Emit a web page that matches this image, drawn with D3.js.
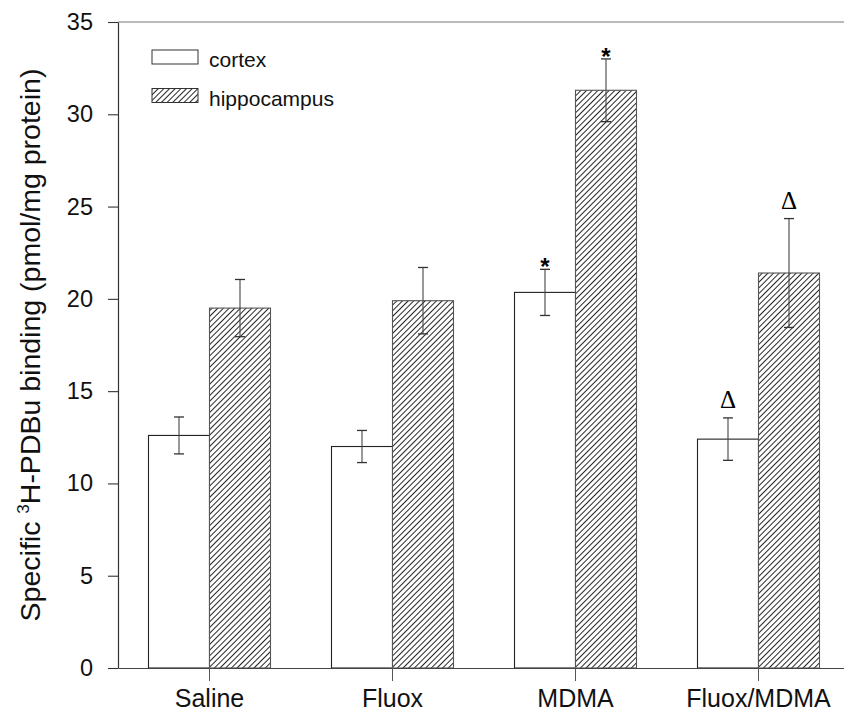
<!DOCTYPE html>
<html>
<head>
<meta charset="utf-8">
<script src="https://cdn.jsdelivr.net/npm/d3@7"></script>
<style>
  html, body { margin: 0; padding: 0; background: #fff; }
  svg { display: block; }
</style>
</head>
<body>
<svg id="chart" width="844" height="715"></svg>
<script>
// Treatment groups and tissue series
const groups = ["Saline", "Fluox", "MDMA", "Fluox/MDMA"];
const series = ["cortex", "hippocampus"];

// Mean specific binding (pmol/mg protein)
const cortexMean = [12.6, 12.0, 20.35, 12.4];
const hippoMean = [19.5, 19.9, 31.3, 21.4];

// Standard errors
const cortexSE = [1.0, 0.87, 1.25, 1.15];
const hippoSE = [1.55, 1.8, 1.7, 2.95];

// Significance markers above each bar ("" = none)
const cortexMark = ["", "", "*", "\u0394"];
const hippoMark = ["", "", "*", "\u0394"];

const yTicks = [0, 5, 10, 15, 20, 25, 30, 35];

const svg = d3.select("#chart");
const plotLeft = 118, plotRight = 850, plotTop = 22, plotBottom = 668;

const x0 = d3.scaleBand().domain(groups).range([plotLeft, plotRight]).padding(0);
const bw = x0.bandwidth();
const x1 = d3.scaleBand().domain(series).range([bw / 6, bw * 5 / 6]).padding(0);
const y = d3.scaleLinear().domain([0, 35]).range([plotBottom, plotTop]);

// Diagonal hatch pattern for the hippocampus bars
const hs = 4;
const defs = svg.append("defs");
const pat = defs.append("pattern")
  .attr("id", "hatch")
  .attr("patternUnits", "userSpaceOnUse")
  .attr("width", hs).attr("height", hs)
  .attr("patternTransform", "rotate(45)");
pat.append("rect").attr("width", hs).attr("height", hs).attr("fill", "#fff");
pat.append("line")
  .attr("x1", 0).attr("y1", 0).attr("x2", 0).attr("y2", hs)
  .attr("stroke", "#000").attr("stroke-width", 1.7);

const rows = groups.map((g, i) => ({
  group: g,
  bars: [
    { key: "cortex", mean: cortexMean[i], se: cortexSE[i], mark: cortexMark[i] },
    { key: "hippocampus", mean: hippoMean[i], se: hippoSE[i], mark: hippoMark[i] }
  ]
}));

// Top frame line
svg.append("line")
  .attr("x1", plotLeft).attr("x2", 844).attr("y1", plotTop).attr("y2", plotTop)
  .attr("stroke", "#777").attr("stroke-width", 1.2);

const gGroups = svg.selectAll("g.grp").data(rows).join("g")
  .attr("class", "grp")
  .attr("transform", d => `translate(${x0(d.group)},0)`);

const gBar = gGroups.selectAll("g.bar").data(d => d.bars).join("g").attr("class", "bar");

gBar.append("rect")
  .attr("x", d => x1(d.key))
  .attr("y", d => y(d.mean))
  .attr("width", x1.bandwidth())
  .attr("height", d => y(0) - y(d.mean))
  .attr("fill", d => d.key === "cortex" ? "#fff" : "url(#hatch)")
  .attr("stroke", d => d.key === "cortex" ? "#222" : "#555")
  .attr("stroke-width", 1.1);

// Error bars
const capHalf = 5;
gBar.each(function (d) {
  const g = d3.select(this);
  const cx = x1(d.key) + x1.bandwidth() / 2;
  const yHi = y(d.mean + d.se), yLo = y(d.mean - d.se);
  g.append("line").attr("x1", cx).attr("x2", cx).attr("y1", yHi).attr("y2", yLo)
    .attr("stroke", "#444").attr("stroke-width", 1.1);
  [yHi, yLo].forEach(yy => g.append("line")
    .attr("x1", cx - capHalf).attr("x2", cx + capHalf).attr("y1", yy).attr("y2", yy)
    .attr("stroke", "#333").attr("stroke-width", 1.3));
  if (d.mark === "*") {
    g.append("text").attr("x", cx).attr("y", yHi + 6)
      .attr("text-anchor", "middle")
      .attr("font-family", "Liberation Sans, Arial, sans-serif")
      .attr("font-weight", "bold").attr("font-size", 24)
      .text(d.mark);
  } else if (d.mark) {
    g.append("text").attr("x", cx).attr("y", yHi - 10)
      .attr("text-anchor", "middle")
      .attr("font-family", "Liberation Serif, Times New Roman, serif")
      .attr("font-size", 25)
      .text(d.mark);
  }
});

// Y axis
const yAxis = svg.append("g")
  .attr("transform", `translate(${plotLeft},0)`)
  .call(d3.axisLeft(y).tickValues(yTicks).tickSize(10).tickPadding(15).tickSizeOuter(0));
yAxis.select(".domain").attr("stroke", "#333").attr("stroke-width", 1.2);
yAxis.selectAll(".tick line").attr("stroke", "#333").attr("stroke-width", 1.1);
yAxis.selectAll(".tick text")
  .attr("font-family", "Liberation Sans, Arial, sans-serif")
  .attr("font-size", 23.5).attr("fill", "#111");

// X axis
const xAxis = svg.append("g")
  .attr("transform", `translate(0,${plotBottom})`)
  .call(d3.axisBottom(x0).tickSize(13).tickPadding(8).tickSizeOuter(0));
xAxis.select(".domain").attr("stroke", "#444").attr("stroke-width", 1.2);
xAxis.selectAll(".tick line").attr("stroke", "#555").attr("stroke-width", 1);
xAxis.selectAll(".tick text")
  .attr("font-family", "Liberation Sans, Arial, sans-serif")
  .attr("font-size", 25).attr("fill", "#111");

// Y axis title
const yt = svg.append("text")
  .attr("transform", `translate(40,${(plotTop + plotBottom) / 2}) rotate(-90)`)
  .attr("text-anchor", "middle")
  .attr("font-family", "Liberation Sans, Arial, sans-serif")
  .attr("font-size", 28.5).attr("fill", "#111");
yt.append("tspan").text("Specific ");
yt.append("tspan").attr("font-size", 17).attr("dy", -11).text("3");
yt.append("tspan").attr("dy", 11).text("H-PDBu binding (pmol/mg protein)");

// Legend
const legend = svg.append("g").attr("transform", "translate(152,50)");
const items = legend.selectAll("g").data(series).join("g")
  .attr("transform", (d, i) => `translate(0,${i * 38.5})`);
items.append("rect")
  .attr("width", 46).attr("height", 14)
  .attr("fill", d => d === "cortex" ? "#fff" : "url(#hatch)")
  .attr("stroke", "#333").attr("stroke-width", 1);
items.append("text")
  .attr("x", 57).attr("y", 17)
  .attr("font-family", "Liberation Sans, Arial, sans-serif")
  .attr("font-size", 21).attr("fill", "#111")
  .text(d => d);
</script>
</body>
</html>
